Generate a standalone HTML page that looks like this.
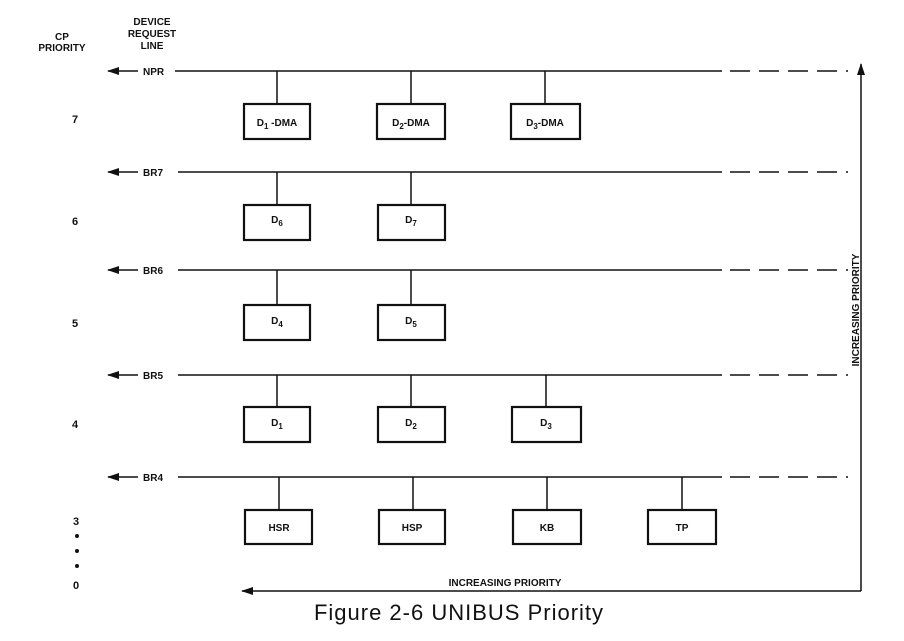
<!DOCTYPE html>
<html><head><style>
body{margin:0;background:#fff;}
svg{display:block;}
text{font-family:"Liberation Sans",sans-serif;font-weight:bold;fill:#111;}
</style></head><body>
<svg width="904" height="641" viewBox="0 0 904 641">
<defs><marker id="ah" markerWidth="12" markerHeight="8" refX="11" refY="4" orient="auto" markerUnits="userSpaceOnUse"><path d="M0,0 L12,4 L0,8 Z" fill="#111"/></marker></defs>
<g font-size="10" text-anchor="middle">
<text x="62" y="40">CP</text><text x="62" y="51">PRIORITY</text>
<text x="152" y="25">DEVICE</text><text x="152" y="37">REQUEST</text><text x="152" y="49">LINE</text>
</g>
<g font-size="11" text-anchor="middle">
<text x="75" y="123">7</text><text x="75" y="225">6</text><text x="75" y="327">5</text><text x="75" y="428">4</text><text x="76" y="525">3</text><text x="76" y="589" font-weight="normal">0</text>
</g>
<circle cx="77" cy="536" r="2" fill="#111"/><circle cx="77" cy="551" r="2" fill="#111"/><circle cx="77" cy="566" r="2" fill="#111"/>
<g stroke="#111" stroke-width="1.5">
<line x1="138" y1="71" x2="108" y2="71" marker-end="url(#ah)"/>
<line x1="138" y1="172" x2="108" y2="172" marker-end="url(#ah)"/>
<line x1="138" y1="270" x2="108" y2="270" marker-end="url(#ah)"/>
<line x1="138" y1="375" x2="108" y2="375" marker-end="url(#ah)"/>
<line x1="138" y1="477" x2="108" y2="477" marker-end="url(#ah)"/>
<line x1="175" y1="71" x2="722" y2="71"/><line x1="730" y1="71" x2="848" y2="71" stroke-dasharray="20,9"/>
<line x1="178" y1="172" x2="722" y2="172"/><line x1="730" y1="172" x2="848" y2="172" stroke-dasharray="20,9"/>
<line x1="178" y1="270" x2="722" y2="270"/><line x1="730" y1="270" x2="848" y2="270" stroke-dasharray="20,9"/>
<line x1="178" y1="375" x2="722" y2="375"/><line x1="730" y1="375" x2="848" y2="375" stroke-dasharray="20,9"/>
<line x1="178" y1="477" x2="722" y2="477"/><line x1="730" y1="477" x2="848" y2="477" stroke-dasharray="20,9"/>
<line x1="861" y1="591" x2="861" y2="64" marker-end="url(#ah)"/>
<line x1="861" y1="591" x2="242" y2="591" marker-end="url(#ah)"/>
<line x1="277" y1="71" x2="277" y2="103"/><line x1="411" y1="71" x2="411" y2="103"/><line x1="545" y1="71" x2="545" y2="103"/>
<line x1="277" y1="172" x2="277" y2="205"/><line x1="411" y1="172" x2="411" y2="205"/>
<line x1="277" y1="270" x2="277" y2="305"/><line x1="411" y1="270" x2="411" y2="305"/>
<line x1="277" y1="375" x2="277" y2="406"/><line x1="411" y1="375" x2="411" y2="406"/><line x1="546" y1="375" x2="546" y2="406"/>
<line x1="279" y1="477" x2="279" y2="509"/><line x1="413" y1="477" x2="413" y2="509"/><line x1="547" y1="477" x2="547" y2="509"/><line x1="682" y1="477" x2="682" y2="509"/>
</g>
<g stroke="#111" stroke-width="2.2" fill="#fff">
<rect x="244" y="104" width="66" height="35"/><rect x="377" y="104" width="68" height="35"/><rect x="511" y="104" width="69" height="35"/>
<rect x="244" y="205" width="66" height="35"/><rect x="378" y="205" width="67" height="35"/>
<rect x="244" y="305" width="66" height="35"/><rect x="378" y="305" width="67" height="35"/>
<rect x="244" y="407" width="66" height="35"/><rect x="378" y="407" width="67" height="35"/><rect x="512" y="407" width="69" height="35"/>
<rect x="245" y="510" width="67" height="34"/><rect x="379" y="510" width="66" height="34"/><rect x="513" y="510" width="68" height="34"/><rect x="648" y="510" width="68" height="34"/>
</g>
<g font-size="10">
<text x="143" y="75">NPR</text><text x="143" y="176">BR7</text><text x="143" y="274">BR6</text><text x="143" y="379">BR5</text><text x="143" y="481">BR4</text>
</g>
<g font-size="10" text-anchor="middle">
<text x="277" y="126">D<tspan font-size="8" dy="3">1</tspan><tspan dy="-3"> -DMA</tspan></text>
<text x="411" y="126">D<tspan font-size="8" dy="3">2</tspan><tspan dy="-3">-DMA</tspan></text>
<text x="545" y="126">D<tspan font-size="8" dy="3">3</tspan><tspan dy="-3">-DMA</tspan></text>
<text x="277" y="223">D<tspan font-size="8" dy="3">6</tspan></text>
<text x="411" y="223">D<tspan font-size="8" dy="3">7</tspan></text>
<text x="277" y="324">D<tspan font-size="8" dy="3">4</tspan></text>
<text x="411" y="324">D<tspan font-size="8" dy="3">5</tspan></text>
<text x="277" y="426">D<tspan font-size="8" dy="3">1</tspan></text>
<text x="411" y="426">D<tspan font-size="8" dy="3">2</tspan></text>
<text x="546" y="426">D<tspan font-size="8" dy="3">3</tspan></text>
<text x="279" y="531">HSR</text><text x="412" y="531">HSP</text><text x="547" y="531">KB</text><text x="682" y="531">TP</text>
<text x="505" y="586">INCREASING PRIORITY</text>
<text transform="translate(859,310) rotate(-90)">INCREASING PRIORITY</text>
</g>
<text x="459" y="620" font-size="22" letter-spacing="1" text-anchor="middle" style="font-weight:normal">Figure 2-6 UNIBUS Priority</text>
</svg>
</body></html>
